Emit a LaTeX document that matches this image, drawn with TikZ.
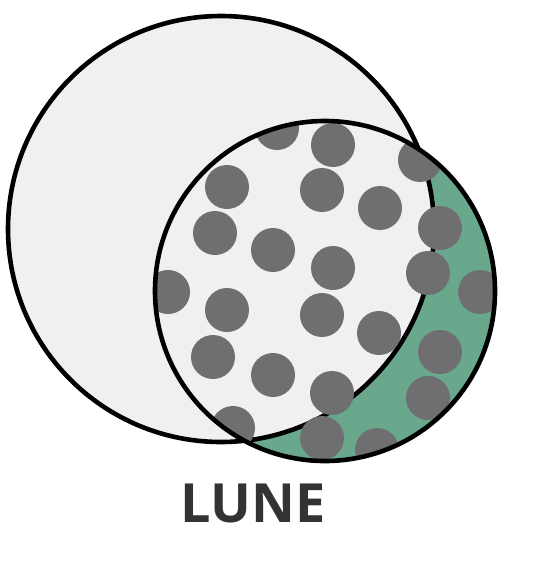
\documentclass[tikz,border=0pt]{standalone}
\usepackage{fontspec}
\newfontfamily\labelfont{Open Sans}
\definecolor{lightfill}{HTML}{F0F0F1}
\definecolor{lunegreen}{HTML}{6AA88D}
\definecolor{dotgray}{HTML}{6F6F72}
\definecolor{textgray}{HTML}{333333}
\tikzset{
  outline/.style={draw=black, line width=4.6pt},
  dotstyle/.style={fill=dotgray},
}
\begin{document}
\begin{tikzpicture}[x=1pt,y=-1pt]
\useasboundingbox (0,0) rectangle (544,562);
\fill[white] (0,0) rectangle (544,562);
\coordinate (bigc) at (221,229);
\coordinate (smallc) at (325,291);
% big circle
\fill[lightfill] (bigc) circle (213);
\draw[outline] (bigc) circle (213);
\begin{scope}
  \clip (smallc) circle (170);
  \fill[lunegreen] (smallc) circle (170);
  \fill[lightfill] (bigc) circle (213);
  \draw[outline] (bigc) circle (213);
  \foreach \x/\y in {277/128, 333/145, 420/160,
                     227/187, 322/190, 380/208,
                     215/233, 273/250, 440/228,
                     333/268, 428/273,
                     168/292, 480/292,
                     227/310, 322/315,
                     379/333, 440/352,
                     213/357, 273/375, 332/393, 428/398,
                     233/428, 322/438, 377/450}
    \fill[dotstyle] (\x,\y) circle (22);
\end{scope}
\draw[outline] (smallc) circle (170);
\node[anchor=base, inner sep=0pt, text=textgray, font=\labelfont\bfseries\fontsize{54}{60}\selectfont] (label) at (253,522) {LUNE};
\end{tikzpicture}
\end{document}
